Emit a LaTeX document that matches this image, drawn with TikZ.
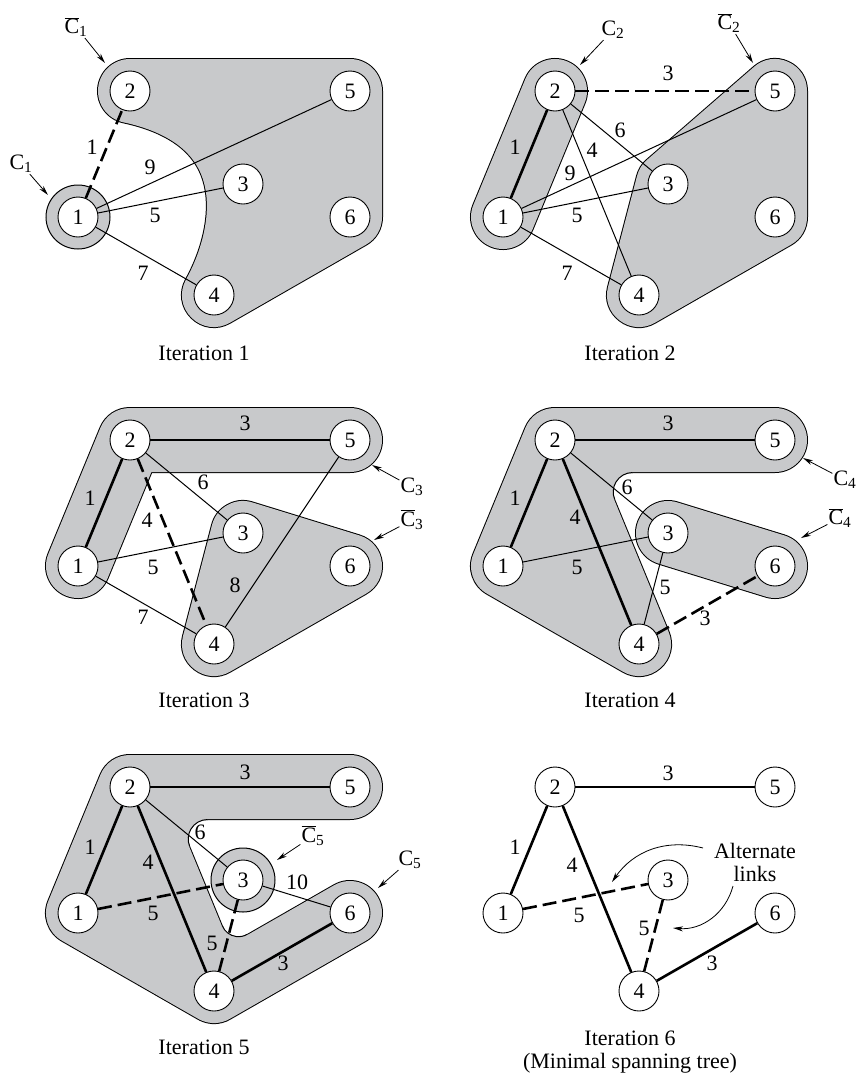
\documentclass[tikz,border=0pt]{standalone}
\usepackage{fontspec}
\setmainfont{Liberation Serif}
\usetikzlibrary{arrows.meta,backgrounds}

\definecolor{cgray}{RGB}{200,201,203}
\newcommand{\cset}[1]{C\textsubscript{#1}}
\newcommand{\csetbar}[1]{$\overline{\mbox{C}}$\textsubscript{#1}}

\begin{document}
\begin{tikzpicture}[
    x=1pt, y=-1pt,
    font=\fontsize{22}{23}\selectfont,
    vertex/.style={
        circle,
        draw,
        fill=white,
        line width=0.9pt,
        minimum size=40pt,
        inner sep=0pt
    },
    weight/.style={inner sep=0pt},
    setlabel/.style={inner sep=1pt},
    caption/.style={align=center},
    link/.style={line width=1pt},
    tree/.style={line width=2.6pt},
    alt/.style={line width=2.6pt, dash pattern=on 14pt off 6pt},
    pointer/.style={
        -{Stealth[length=10pt,width=5pt]},
        line width=0.8pt
    },
    cluster/.style={
        preaction={draw=black, line width=66pt, line join=round, line cap=round},
        draw=cgray,
        line width=64pt,
        line join=round,
        line cap=round
    },
    rim/.style={line width=1pt}
]
\useasboundingbox (0,0) rectangle (857,1077);

% Iteration 1
\node[vertex] (a1) at (78,217) {1};
\node[vertex] (a2) at (130,91) {2};
\node[vertex] (a3) at (243,184) {3};
\node[vertex] (a4) at (214,295) {4};
\node[vertex] (a5) at (350,91) {5};
\node[vertex] (a6) at (350,217) {6};

% Iteration 2
\node[vertex] (b1) at (503,217) {1};
\node[vertex] (b2) at (555,91) {2};
\node[vertex] (b3) at (668,184) {3};
\node[vertex] (b4) at (639,295) {4};
\node[vertex] (b5) at (775,91) {5};
\node[vertex] (b6) at (775,217) {6};

% Iteration 3
\node[vertex] (c1) at (78,566) {1};
\node[vertex] (c2) at (130,440) {2};
\node[vertex] (c3) at (243,533) {3};
\node[vertex] (c4) at (214,644) {4};
\node[vertex] (c5) at (350,440) {5};
\node[vertex] (c6) at (350,566) {6};

% Iteration 4
\node[vertex] (d1) at (503,566) {1};
\node[vertex] (d2) at (555,440) {2};
\node[vertex] (d3) at (668,533) {3};
\node[vertex] (d4) at (639,644) {4};
\node[vertex] (d5) at (775,440) {5};
\node[vertex] (d6) at (775,566) {6};

% Iteration 5
\node[vertex] (e1) at (78,913) {1};
\node[vertex] (e2) at (130,787) {2};
\node[vertex] (e3) at (243,880) {3};
\node[vertex] (e4) at (214,991) {4};
\node[vertex] (e5) at (350,787) {5};
\node[vertex] (e6) at (350,913) {6};

% Iteration 6
\node[vertex] (f1) at (503,913) {1};
\node[vertex] (f2) at (555,787) {2};
\node[vertex] (f3) at (668,880) {3};
\node[vertex] (f4) at (639,991) {4};
\node[vertex] (f5) at (775,787) {5};
\node[vertex] (f6) at (775,913) {6};

% shaded sets
\begin{scope}[on background layer]
\draw[rim, fill=cgray] (a1.center) circle[radius=32];
\path[cluster, fill=cgray] (a2.center) -- (a5.center) -- (a6.center) -- (a4.center)
    .. controls (250,230) and (265,120) .. (a2.center);

\path[cluster] (b1.center) -- (b2.center);
\path[cluster, fill=cgray] (b5.center) -- (b6.center) -- (b4.center) -- (b3.center) -- cycle;

\path[cluster] (c5.center) -- (c2.center) -- (c1.center);
\path[cluster, fill=cgray] (c3.center) -- (c6.center) -- (c4.center) -- cycle;

\path[cluster, fill=cgray] (d5.center) -- (d2.center) -- (d1.center) -- (d4.center) -- (d2.center);
\path[cluster] (d3.center) -- (d6.center);

\path[cluster, fill=cgray] (e5.center) -- (e2.center) -- (e1.center) -- (e4.center) -- (e2.center)
    (e4.center) -- (e6.center);
\draw[rim, fill=cgray] (e3.center) circle[radius=32];

% rounded inner corners
\fill[cgray] (597.8,468.7) -- (632.7,469) -- (632.7,472.5)
    arc[start angle=270, end angle=157.6, radius=19.5] -- (611.4,500.7) -- cycle;
\draw[rim] (632.7,472.5) arc[start angle=270, end angle=157.6, radius=19.5];
\fill[cgray] (172.8,815.7) -- (207.7,816) -- (207.7,819.5)
    arc[start angle=270, end angle=157.6, radius=19.5] -- (186.4,847.7) -- cycle;
\draw[rim] (207.7,819.5) arc[start angle=270, end angle=157.6, radius=19.5];
\fill[cgray] (227.8,950.7) -- (219.1,927.1) -- (222.3,925.8)
    arc[start angle=157.7, end angle=60, radius=17.5] -- (249,937.4) -- cycle;
\draw[rim] (222.3,925.8) arc[start angle=157.7, end angle=60, radius=17.5];
\end{scope}

% links
\draw[alt] (a1) -- (a2);
\draw[link] (a1) -- (a5);
\draw[link] (a1) -- (a3);
\draw[link] (a1) -- (a4);

\draw[alt] (b2) -- (b5);
\draw[tree] (b1) -- (b2);
\draw[link] (b2) -- (b3);
\draw[link] (b2) -- (b4);
\draw[link] (b1) -- (b5);
\draw[link] (b1) -- (b3);
\draw[link] (b1) -- (b4);

\draw[tree] (c2) -- (c5);
\draw[tree] (c1) -- (c2);
\draw[alt] (c2) -- (c4);
\draw[link] (c2) -- (c3);
\draw[link] (c1) -- (c3);
\draw[link] (c1) -- (c4);
\draw[link] (c5) -- (c4);

\draw[tree] (d2) -- (d5);
\draw[tree] (d1) -- (d2);
\draw[tree] (d2) -- (d4);
\draw[link] (d2) -- (d3);
\draw[link] (d1) -- (d3);
\draw[link] (d3) -- (d4);
\draw[alt] (d4) -- (d6);

\draw[tree] (e2) -- (e5);
\draw[tree] (e1) -- (e2);
\draw[tree] (e2) -- (e4);
\draw[tree] (e4) -- (e6);
\draw[link] (e2) -- (e3);
\draw[link] (e3) -- (e6);
\draw[alt] (e1) -- (e3);
\draw[alt] (e3) -- (e4);

\draw[tree] (f2) -- (f5);
\draw[tree] (f1) -- (f2);
\draw[tree] (f2) -- (f4);
\draw[tree] (f4) -- (f6);
\draw[alt] (f1) -- (f3);
\draw[alt] (f3) -- (f4);

% weights
\node[weight] (wa12) at (92,147) {1};
\node[weight] (wa15) at (150,167) {9};
\node[weight] (wa13) at (155,215) {5};
\node[weight] (wa14) at (143,273) {7};

\node[weight] (wb25) at (668,73) {3};
\node[weight] (wb12) at (515,147) {1};
\node[weight] (wb23) at (620,130) {6};
\node[weight] (wb24) at (592,150) {4};
\node[weight] (wb15) at (570,173) {9};
\node[weight] (wb13) at (577,215) {5};
\node[weight] (wb14) at (567,273) {7};

\node[weight] (wc25) at (245,423) {3};
\node[weight] (wc12) at (90,498) {1};
\node[weight] (wc24) at (147,520) {4};
\node[weight] (wc23) at (203,482) {6};
\node[weight] (wc13) at (153,567) {5};
\node[weight] (wc14) at (143,617) {7};
\node[weight] (wc54) at (235,585) {8};

\node[weight] (wd25) at (668,423) {3};
\node[weight] (wd12) at (515,498) {1};
\node[weight] (wd24) at (575,517) {4};
\node[weight] (wd23) at (627,487) {6};
\node[weight] (wd13) at (577,567) {5};
\node[weight] (wd34) at (665,587) {5};
\node[weight] (wd46) at (705,618) {3};

\node[weight] (we25) at (245,772) {3};
\node[weight] (we12) at (90,847) {1};
\node[weight] (we24) at (148,862) {4};
\node[weight] (we23) at (200,832) {6};
\node[weight] (we13) at (153,913) {5};
\node[weight] (we34) at (212,943) {5};
\node[weight] (we36) at (297,882) {10};
\node[weight] (we46) at (283,963) {3};

\node[weight] (wf25) at (668,773) {3};
\node[weight] (wf12) at (515,847) {1};
\node[weight] (wf24) at (572,865) {4};
\node[weight] (wf13) at (579,915) {5};
\node[weight] (wf34) at (644,928) {5};
\node[weight] (wf46) at (712,963) {3};

% set labels
\node[setlabel] (kbar1) at (76,27) {\csetbar{1}};
\node[setlabel] (k1) at (21,164) {\cset{1}};
\node[setlabel] (k2) at (613,30) {\cset{2}};
\node[setlabel] (kbar2) at (729,23) {\csetbar{2}};
\node[setlabel] (k3) at (412,487) {\cset{3}};
\node[setlabel] (kbar3) at (412,520) {\csetbar{3}};
\node[setlabel] (k4) at (845,480) {\cset{4}};
\node[setlabel] (kbar4) at (840,518) {\csetbar{4}};
\node[setlabel] (kbar5) at (313,836) {\csetbar{5}};
\node[setlabel] (k5) at (410,860) {\cset{5}};

\coordinate (tbar1) at (105,63);
\coordinate (t1) at (48,195);
\coordinate (t2) at (580,65);
\coordinate (tbar2) at (753,63);
\coordinate (t3) at (372,465);
\coordinate (tbar3) at (374,540);
\coordinate (t4) at (803,458);
\coordinate (tbar4) at (801,538);
\coordinate (tbar5) at (277,860);
\coordinate (t5) at (378,888);

\draw[pointer] (kbar1) -- (tbar1);
\draw[pointer] (k1) -- (t1);
\draw[pointer] (k2) -- (t2);
\draw[pointer] (kbar2) -- (tbar2);
\draw[pointer] (k3) -- (t3);
\draw[pointer] (kbar3) -- (tbar3);
\draw[pointer] (k4) -- (t4);
\draw[pointer] (kbar4) -- (tbar4);
\draw[pointer] (kbar5) -- (tbar5);
\draw[pointer] (k5) -- (t5);

% alternate links note
\node[caption] (note) at (755,862) {Alternate\\links};
\coordinate (from13) at (703,848);
\coordinate (from34) at (733,886);
\coordinate (alt13) at (612,882);
\coordinate (alt34) at (673,928);
\draw[pointer] (from13) to[bend right=35] (alt13);
\draw[pointer] (from34) to[bend left=40] (alt34);

% captions
\node[caption] (it1) at (204,353) {Iteration 1};
\node[caption] (it2) at (630,353) {Iteration 2};
\node[caption] (it3) at (204,700) {Iteration 3};
\node[caption] (it4) at (630,700) {Iteration 4};
\node[caption] (it5) at (204,1047) {Iteration 5};
\node[caption] (it6) at (630,1052) {Iteration 6\\(Minimal spanning tree)};

\end{tikzpicture}
\end{document}
